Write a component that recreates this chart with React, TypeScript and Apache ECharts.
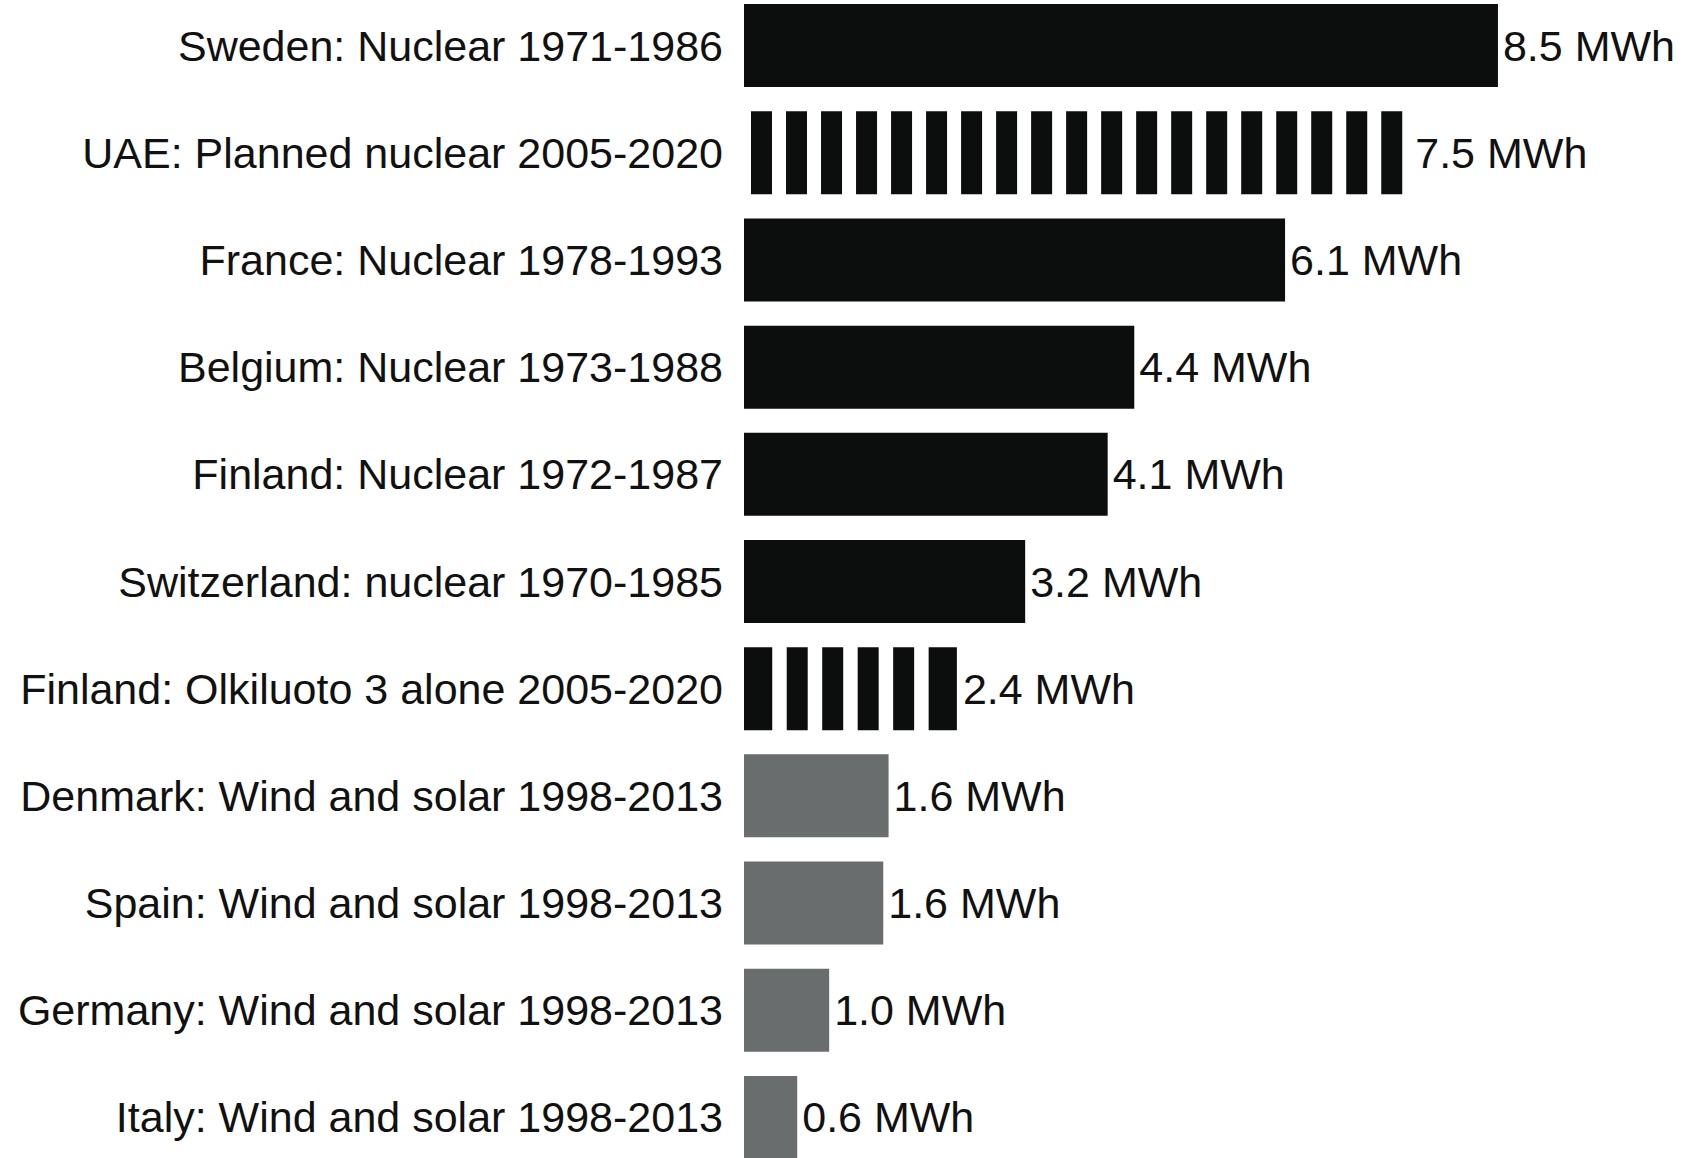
import React, { useEffect, useRef } from "react";
import * as echarts from "echarts";

const categories = [
  "Sweden: Nuclear 1971-1986",
  "UAE: Planned nuclear 2005-2020",
  "France: Nuclear 1978-1993",
  "Belgium: Nuclear 1973-1988",
  "Finland: Nuclear 1972-1987",
  "Switzerland: nuclear 1970-1985",
  "Finland: Olkiluoto 3 alone 2005-2020",
  "Denmark: Wind and solar 1998-2013",
  "Spain: Wind and solar 1998-2013",
  "Germany: Wind and solar 1998-2013",
  "Italy: Wind and solar 1998-2013",
];

const values = [8.5, 7.5, 6.1, 4.4, 4.1, 3.17, 2.4, 1.63, 1.57, 0.96, 0.6];

// "solid" = nuclear achieved, "planned" = striped, "renew" = grey
const kinds = [
  "solid",
  "planned",
  "solid",
  "solid",
  "solid",
  "solid",
  "planned",
  "renew",
  "renew",
  "renew",
  "renew",
];

const BLACK = "#0b0e0c";
const GREY = "#6a6d6e";
const FONT = "'Liberation Sans', Arial, Helvetica, sans-serif";
const BAR_H = 83;
const STRIPE_W = 21;
const STRIPE_PERIOD = 35;
// striped bars whose first and last stripes run to the bar's ends
const FULL_END_STRIPES = new Set(["Finland: Olkiluoto 3 alone 2005-2020"]);

export default function App() {
  const ref = useRef<HTMLDivElement>(null);

  useEffect(() => {
    if (!ref.current) return;
    const chart = echarts.init(ref.current, undefined, { renderer: "svg" });

    const barData = values.map((v, i) => ({
      value: v,
      itemStyle: {
        color:
          kinds[i] === "renew" ? GREY : kinds[i] === "planned" ? "rgba(0,0,0,0)" : BLACK,
      },
      label: kinds[i] === "planned" ? { distance: 6 } : undefined,
    }));

    const stripeData = values
      .map((v, i) => (kinds[i] === "planned" ? [v, i] : null))
      .filter((d) => d !== null);

    chart.setOption({
      animation: false,
      backgroundColor: "#ffffff",
      grid: {
        left: 744,
        right: 52,
        top: -8,
        height: 1179,
        containLabel: false,
        outerBoundsMode: "none",
      },
      xAxis: {
        type: "value",
        min: 0,
        max: 10,
        show: false,
        splitLine: { show: false },
      },
      yAxis: {
        type: "category",
        data: categories,
        inverse: true,
        axisLine: { show: false },
        axisTick: { show: false },
        splitLine: { show: false },
        axisLabel: {
          margin: 21,
          color: "#111111",
          fontSize: 43,
          fontFamily: FONT,
        },
      },
      series: [
        {
          type: "bar",
          data: barData,
          barWidth: BAR_H,
          label: {
            show: true,
            position: "right",
            distance: 5,
            color: "#111111",
            fontSize: 43,
            fontFamily: FONT,
            formatter: (p: any) => `${Number(p.value).toFixed(1)} MWh`,
          },
        },
        {
          type: "custom",
          data: stripeData,
          encode: { x: 0, y: 1 },
          silent: true,
          z: 3,
          renderItem: (params: any, api: any) => {
            const v = api.value(0);
            const c = api.value(1);
            const end = api.coord([v, c]);
            const start = api.coord([0, c]);
            const w = end[0] - start[0];
            const n = Math.max(1, Math.round(w / STRIPE_PERIOD));
            const cell = w / n;
            const fullEnds = FULL_END_STRIPES.has(categories[c]);
            const children = [] as any[];
            for (let k = 0; k < n; k++) {
              let x0 = start[0] + k * cell + (cell - STRIPE_W) / 2;
              let x1 = x0 + STRIPE_W;
              if (fullEnds && k === 0) x0 = start[0];
              if (fullEnds && k === n - 1) x1 = end[0];
              children.push({
                type: "rect",
                shape: {
                  x: x0,
                  y: start[1] - BAR_H / 2,
                  width: x1 - x0,
                  height: BAR_H,
                },
                style: { fill: BLACK },
              });
            }
            return { type: "group", children };
          },
        },
      ],
    });

    return () => chart.dispose();
  }, []);

  return (
    <div
      ref={ref}
      style={{ position: "absolute", left: 0, top: 0, width: 1683, height: 1158 }}
    />
  );
}
